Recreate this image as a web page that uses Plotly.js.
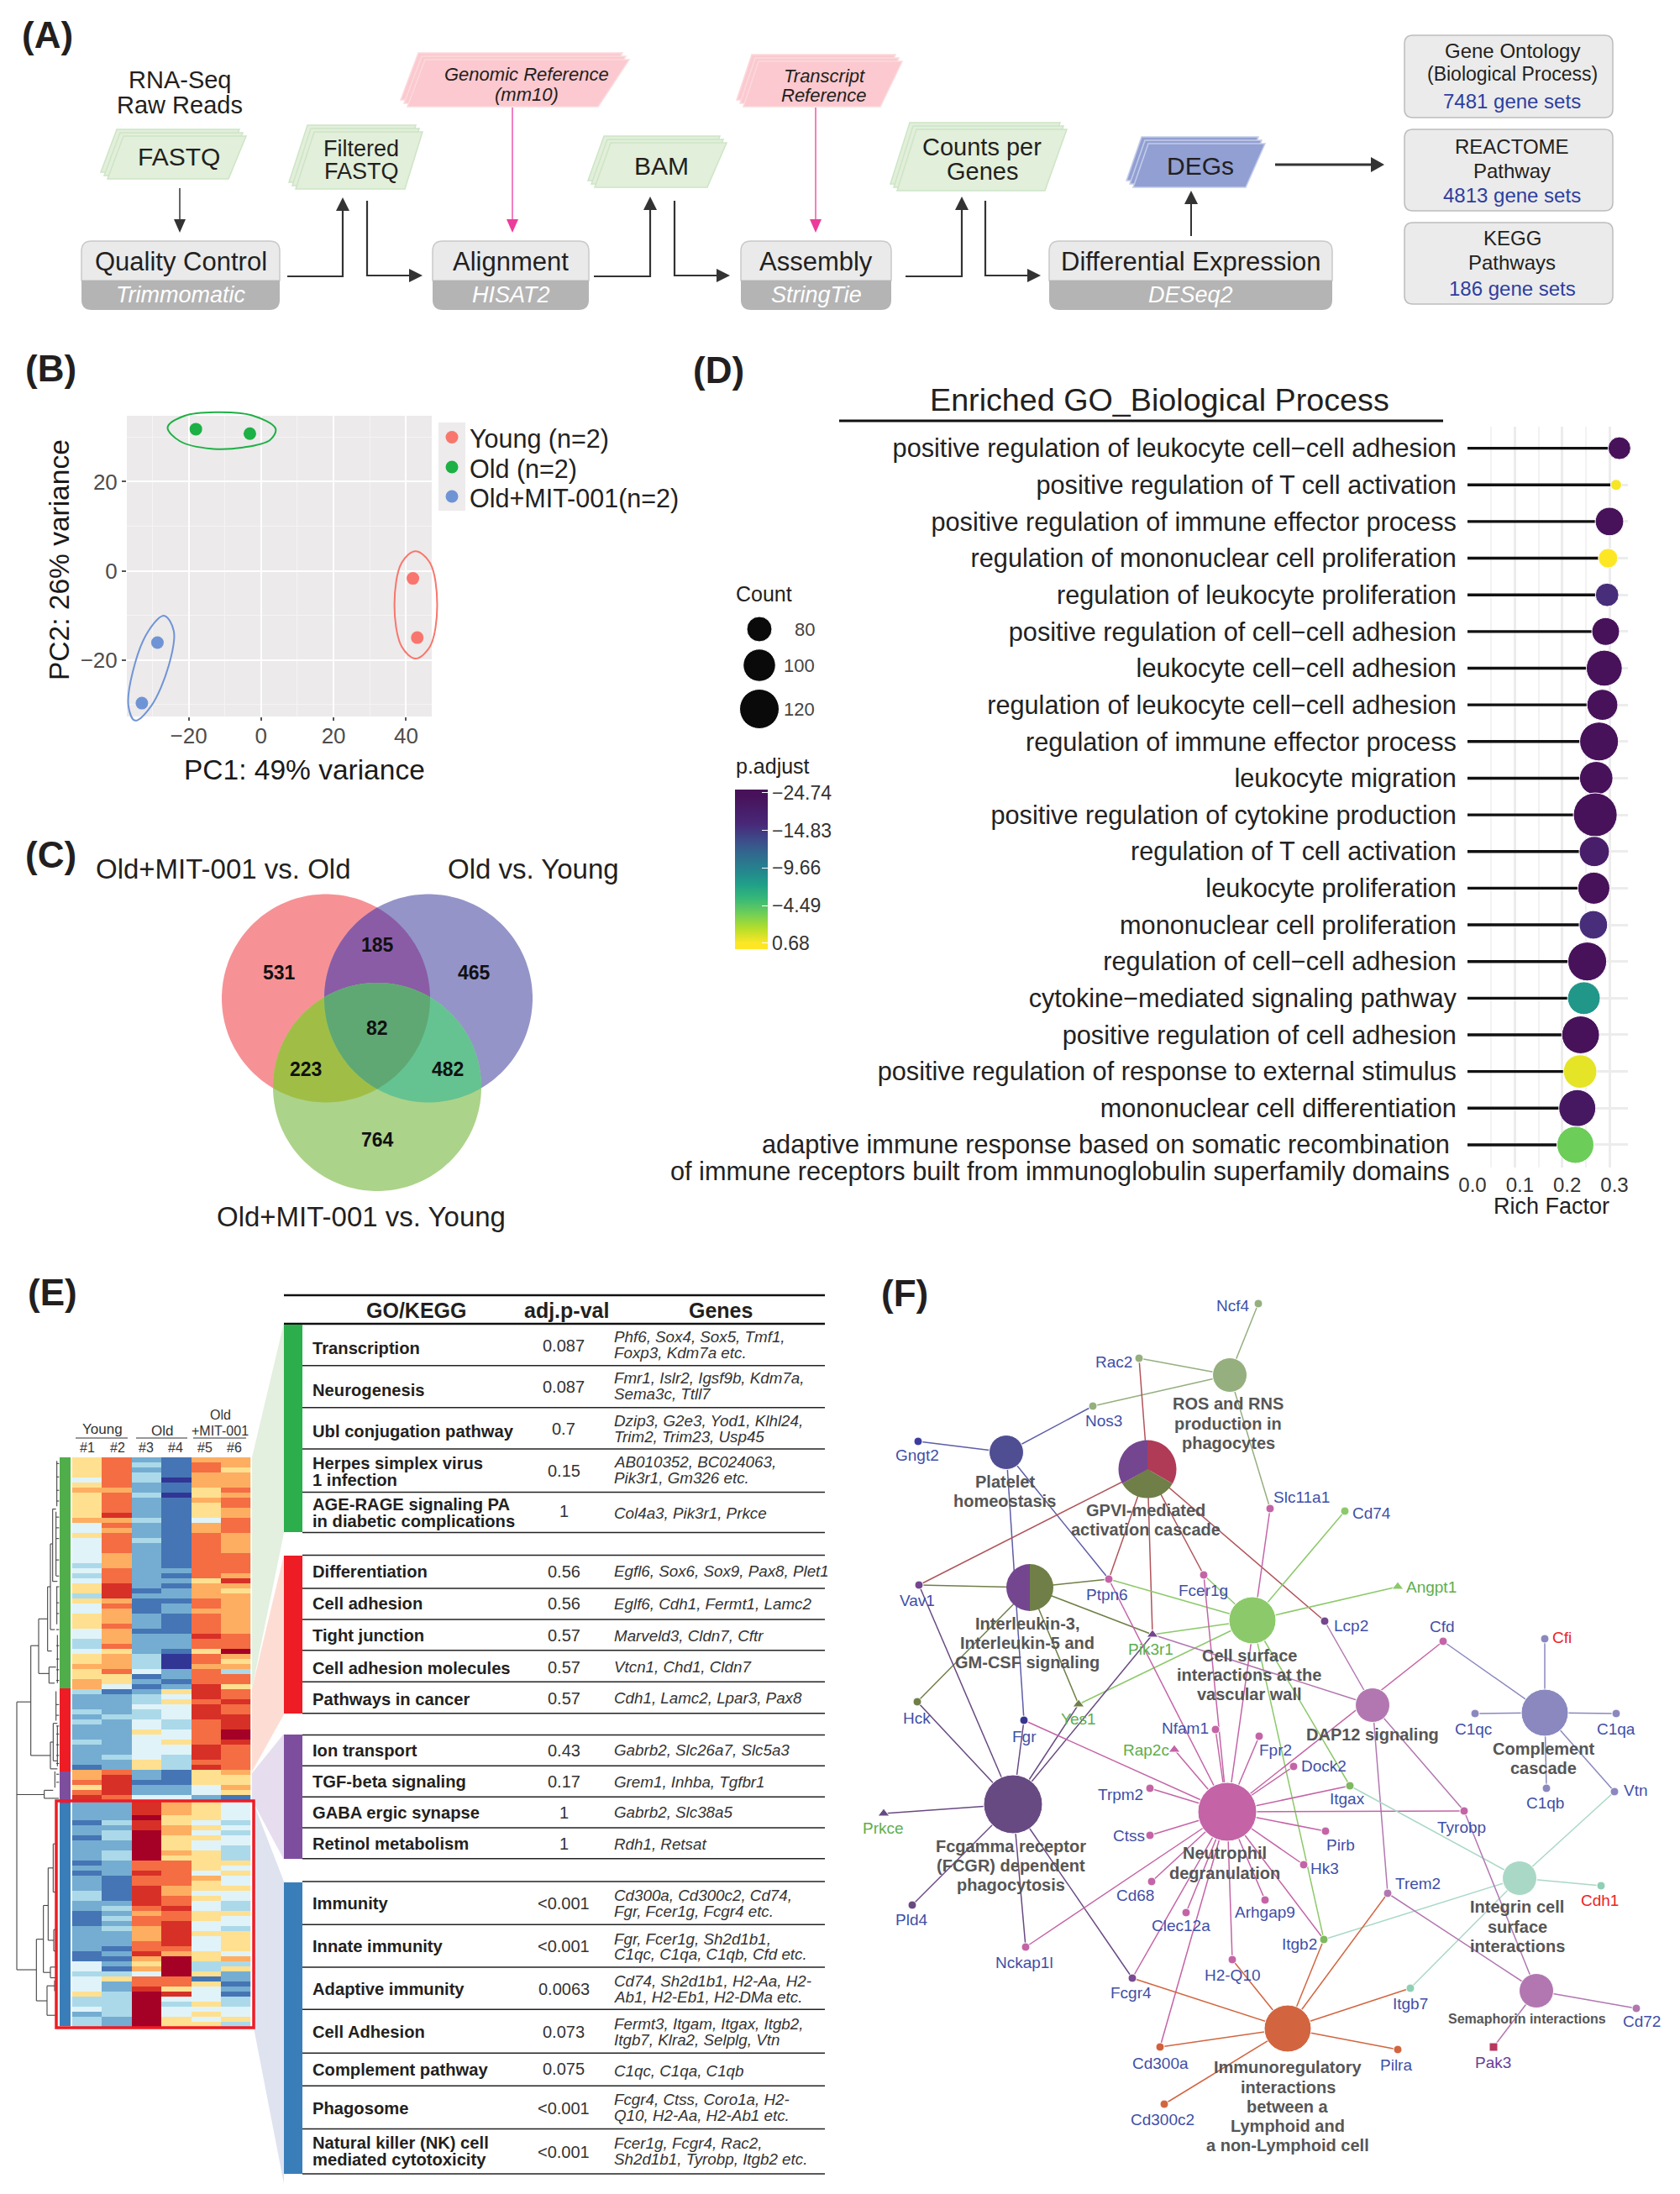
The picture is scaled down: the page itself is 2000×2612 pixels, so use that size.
<!DOCTYPE html>
<html><head><meta charset="utf-8">
<script src="https://cdn.plot.ly/plotly-3.0.1.min.js"></script>
<style>html,body{margin:0;padding:0;background:#fff}#g{width:2000px;height:2612px}</style></head>
<body><div id="g"></div>
<script>
/* ---------- data ---------- */
// B: PCA
const pcaGroups=["Young (n=2)","Old (n=2)","Old+MIT-001(n=2)"];
const pcaColors=["#F8766D","#1DB045","#6F94D6"];
const pc1=[[41.9,43.1],[-18,-3.1],[-28.6,-32.9]];
const pc2=[[-1.7,-15],[31.8,30.8],[-16.1,-29.7]];
const ellipseX=[[42.6,46.6,48.6,46.6,42.6,38.8,36.8,38.8,42.6],[-25.8,-21.1,-12.4,-2.5,4,2.5,-5,-13.7,-22.4,-25.8],[-26.7,-24.1,-25.5,-30.4,-34.8,-36.6,-35.4,-31.1,-26.7]];
const ellipseY=[[4.4,1.8,-7.7,-17,-19.7,-17,-7.7,1.8,4.4],[32.2,34.8,35.6,34.9,31.9,29.4,27.7,27.4,29.1,32.2],[-10.1,-13.5,-21.3,-30.4,-33.6,-30.4,-22.6,-13.5,-10.1]];
// C: Venn
const vennCounts=[531,185,465,82,223,482,764];
const vennLabelX=[332,449,564,449,364,533,449];
const vennLabelY=[1158,1125,1158,1224,1273,1273,1357];
// D: enrichment
const goTerms=["positive regulation of leukocyte cell−cell adhesion","positive regulation of T cell activation","positive regulation of immune effector process","regulation of mononuclear cell proliferation","regulation of leukocyte proliferation","positive regulation of cell−cell adhesion","leukocyte cell−cell adhesion","regulation of leukocyte cell−cell adhesion","regulation of immune effector process","leukocyte migration","positive regulation of cytokine production","regulation of T cell activation","leukocyte proliferation","mononuclear cell proliferation","regulation of cell−cell adhesion","cytokine−mediated signaling pathway","positive regulation of cell adhesion","positive regulation of response to external stimulus","mononuclear cell differentiation","adaptive immune response"];
const lastTermLines=["adaptive immune response based on somatic recombination","of immune receptors built from immunoglobulin superfamily domains"];
const richFactor=[.321,.314,.300,.297,.295,.292,.289,.285,.278,.272,.270,.268,.267,.266,.253,.246,.239,.238,.232,.228];
const goCount=[73,40,89,64,75,87,110,96,118,103,132,94,99,89,118,101,115,103,113,113];
const pAdjust=[-24,0.5,-24,0.68,-16,-24,-24,-24,-24,-24,-24,-20,-24,-16,-24,-8,-24,0,-22,-3.5];
const pAdjustTicks=[-24.74,-14.83,-9.66,-4.49,0.68];
const pAdjustTickText=["−24.74","−14.83","−9.66","−4.49","0.68"];
const countLevels=[80,100,120];
// E: heatmap, one array per sample, colour class 0 (dark blue) .. 9 (dark red)
const sample1=[5,5,5,5,4,5,6,5,5,5, 5,5,6,4,4,5,4,4,4,4, 4,3,4,3,4,5,5,3,5,4, 4,5,5,5,4, 4,3,3,4,5,5,6,5,5,6, 6,3,2,2,2,3,2,3,2,2, 2,3,2,2,2,2,1,6,6,7,5,7,8, 2,2,2,2,1,2,2,1,2,2,2,2, 1,2,1,2,2,2,3,3,2,2,1, 1,1,2,2,2,2,2,1,1, 4,4,3,4,4,4,5,3,3,4,2,3,3];
const sample2=[7,7,7,7,7,7,6,7,7,7, 7,8,6,7,6,7,7,7,7,6, 6,6,7,7,7,8,8,8,6,7, 6,6,6,7,6, 6,6,7,5,6,6,6,7,5,5, 4,1,2,2,2,2,3,2,2,2, 2,2,2,2,3,2,2,7,8,8,8,8,7, 2,2,2,2,3,2,3,3,2,2,3,3, 2,2,2,1,1,1,1,1,2,3,2, 3,2,3,2,2,2,1,2,1, 2,1,3,5,2,2,3,3,3,3,3,2,2];
const sample3=[2,3,2,3,3,2,2,3,2,2, 2,2,3,2,2,2,3,2,2,2, 2,2,2,2,2,2,1,2,1,1, 1,2,2,2,1, 2,2,2,2,3,3,3,4,1,2, 1,2,3,3,4,3,3,4,4,5, 4,4,4,4,4,5,5,2,2,1,2,2,4, 8,8,8,9,8,8,9,9,9,9,9,9, 7,7,8,7,7,8,8,8,8,7,6, 7,7,6,6,6,7,7,8,6, 5,6,4,7,7,8,9,9,9,9,9,9,9];
const sample4=[1,1,1,1,0,1,1,0,1,1, 1,1,1,1,1,1,1,1,1,1, 1,1,2,1,2,1,2,2,1,2, 2,1,1,1,1, 2,2,2,1,0,0,0,2,2,1, 2,5,4,5,4,4,4,3,3,4, 4,5,4,4,3,3,3,1,1,1,2,2,4, 6,6,6,5,5,6,6,5,5,5,6,5, 7,7,7,7,7,6,6,7,7,8,7, 7,8,8,8,8,8,7,6,9, 9,9,9,7,7,5,8,4,3,4,4,5,5];
const sample5=[6,7,7,6,6,6,5,5,6,5, 5,5,4,6,6,7,7,7,7,7, 7,7,7,7,5,6,6,6,7,7, 6,7,7,7,7, 8,7,7,5,7,7,6,7,7,7, 8,8,8,7,8,8,8,7,7,7, 7,7,8,8,8,7,8,5,5,5,4,4,2, 5,5,5,5,4,5,4,5,4,4,5,5, 5,5,4,6,5,5,4,5,4,4,5, 5,4,4,5,4,4,4,5,5, 3,3,5,1,5,4,4,4,5,4,5,4,5];
const sample6=[6,6,5,6,6,6,7,6,7,7, 6,6,7,7,7,6,6,6,6,7, 7,7,7,6,8,6,5,6,6,6, 6,6,6,6,6, 7,7,7,9,6,5,6,3,7,7, 5,7,7,8,7,7,8,8,8,9, 9,8,7,7,7,7,7,6,5,5,6,5,1, 4,4,4,4,3,4,3,4,4,3,3,3, 5,4,5,4,4,5,4,4,3,3,5, 4,4,3,5,5,5,5,4,6, 3,5,2,2,1,2,1,3,3,4,4,5,3];
const sampleLabels=["#1","#2","#3","#4","#5","#6"];
const heatClasses=["#313695","#4575B4","#74ADD1","#ABD9E9","#E0F3F8","#FEE090","#FDAE61","#F46D43","#D73027","#A50026"];
// E: table
const tableTerms=[["Transcription"],["Neurogenesis"],["Ubl conjugation pathway"],["Herpes simplex virus","1 infection"],["AGE-RAGE signaling PA","in diabetic complications"],["Differentiation"],["Cell adhesion"],["Tight junction"],["Cell adhesion molecules"],["Pathways in cancer"],["Ion transport"],["TGF-beta signaling"],["GABA ergic synapse"],["Retinol metabolism"],["Immunity"],["Innate immunity"],["Adaptive immunity"],["Cell Adhesion"],["Complement pathway"],["Phagosome"],["Natural killer (NK) cell","mediated cytotoxicity"]];
const tablePvals=["0.087","0.087","0.7","0.15","1","0.56","0.56","0.57","0.57","0.57","0.43","0.17","1","1","<0.001","<0.001","0.0063","0.073","0.075","<0.001","<0.001"];
const tableGenes=[["Phf6, Sox4, Sox5, Tmf1,","Foxp3, Kdm7a etc."],["Fmr1, Islr2, Igsf9b, Kdm7a,","Sema3c, Ttll7"],["Dzip3, G2e3, Yod1, Klhl24,","Trim2, Trim23, Usp45"],["AB010352, BC024063,","Pik3r1, Gm326 etc."],["Col4a3, Pik3r1, Prkce"],["Egfl6, Sox6, Sox9, Pax8, Plet1"],["Eglf6, Cdh1, Fermt1, Lamc2"],["Marveld3, Cldn7, Cftr"],["Vtcn1, Chd1, Cldn7"],["Cdh1, Lamc2, Lpar3, Pax8"],["Gabrb2, Slc26a7, Slc5a3"],["Grem1, Inhba, Tgfbr1"],["Gabrb2, Slc38a5"],["Rdh1, Retsat"],["Cd300a, Cd300c2, Cd74,","Fgr, Fcer1g, Fcgr4 etc."],["Fgr, Fcer1g, Sh2d1b1,","C1qc, C1qa, C1qb, Cfd etc."],["Cd74, Sh2d1b1, H2-Aa, H2-","Ab1, H2-Eb1, H2-DMa etc."],["Fermt3, Itgam, Itgax, Itgb2,","Itgb7, Klra2, Selplg, Vtn"],["C1qc, C1qa, C1qb"],["Fcgr4, Ctss, Coro1a, H2-","Q10, H2-Aa, H2-Ab1 etc."],["Fcer1g, Fcgr4, Rac2,","Sh2d1b1, Tyrobp, Itgb2 etc."]];
// F: network
const hubNames=["ROS","Platelet","GPVI","IL3","CellSurface","DAP12","Complement","Fcgamma","Neutrophil","Integrin","Semaphorin","Immunoreg"];
const hubX=[1464,1198,1366,1226,1491,1634,1839,1206,1461,1809,1829,1533];
const hubY=[1637,1729,1749,1890,1929,2030,2039,2148,2157,2236,2370,2415];
const hubSize=[41,41,69,56,56,41,56,70,70,41,41,56];
const hubColor=["#95AF7F","#4F4E93","#74468F","#6F7F47","#8CC96A","#B277B1","#8A88BF","#684A82","#C464A6","#AAD8C6","#B277B1","#D26540"];
const hubEdgeColor=["#95AF7F","#5D5DA8","#B0545A","#6F7F47","#8CC96A","#B277B1","#8A88BF","#684A82","#C464A6","#AAD8C6","#B277B1","#D26540"];
const hubLabels=[["ROS and RNS","production in","phagocytes"],["Platelet","homeostasis"],["GPVI-mediated","activation cascade"],["Interleukin-3,","Interleukin-5 and","GM-CSF signaling"],["Cell surface","interactions at the","vascular wall"],["DAP12 signaling"],["Complement","cascade"],["Fcgamma receptor","(FCGR) dependent","phagocytosis"],["Neutrophil","degranulation"],["Integrin cell","surface","interactions"],["Semaphorin interactions"],["Immunoregulatory","interactions","between a","Lymphoid and","a non-Lymphoid cell"]];
const hubLabelX=[1462,1196,1364,1223,1487,1634,1837,1203,1458,1806,1818,1533];
const hubLabelY=[[1671,1695,1718],[1764,1787],[1798,1821],[1933,1956,1979],[1971,1994,2017],[2065],[2082,2105],[2198,2221,2244],[2206,2230],[2270,2294,2317],[2403],[2461,2485,2508,2531,2554]];
const hubGenes=[["Ncf4","Rac2","Nos3","Slc11a1"],["Nos3","Gngt2","Ptpn6","Fgr"],["Rac2","Vav1","Ptpn6","Pik3r1","Fcer1g","Lcp2"],["Vav1","Ptpn6","Pik3r1","Hck","Yes1"],["Ptpn6","Fcer1g","Cd74","Angpt1","Pik3r1","Yes1","Itgax","Itgb2"],["Lcp2","Pik3r1","Trem2","Tyrobp"],["Cfd","Cfi","C1qc","C1qa","C1qb","Vtn"],["Hck","Vav1","Fgr","Yes1","Pik3r1","Prkce","Pld4","Nckap1l","Fcgr4"],["Fgr","Ptpn6","Nfam1","Fcer1g","Slc11a1","Fpr2","Rap2c","Dock2","Trpm2","Itgax","Tyrobp","Ctss","Pirb","Hk3","Cd68","Arhgap9","Clec12a","Itgb2","Nckap1l","H2-Q10","Fcgr4","Cd300a","Cfd"],["Itgax","Vtn","Cdh1","Itgb2","Itgb7"],["Trem2","Tyrobp","Cd72","Pak3"],["Fcgr4","H2-Q10","Itgb2","Trem2","Itgb7","Pilra","Cd300a","Cd300c2"]];
const genePos={Ncf4:[1498,1552,1468,1554],Rac2:[1356,1617,1326,1621],Nos3:[1301,1674,1314,1691],Gngt2:[1093,1716,1092,1732],Slc11a1:[1512,1796,1549,1782],Cd74:[1601,1799,1633,1801],Vav1:[1094,1887,1092,1905],Ptpn6:[1320,1880,1318,1898],Fcer1g:[1433,1875,1432,1893],Angpt1:[1664,1889,1704,1889],Lcp2:[1577,1930,1608,1935],Pik3r1:[1372,1946,1370,1963],Cfd:[1718,1954,1717,1936],Cfi:[1839,1951,1859,1949],Hck:[1092,2026,1091,2045],Yes1:[1284,2029,1284,2046],Fgr:[1219,2048,1219,2067],C1qc:[1756,2040,1754,2058],C1qa:[1924,2040,1924,2058],Nfam1:[1447,2059,1411,2057],Fpr2:[1499,2067,1518,2083],Rap2c:[1398,2083,1364,2083],Dock2:[1540,2103,1576,2102],Trpm2:[1369,2129,1334,2136],Itgax:[1607,2126,1604,2141],C1qb:[1841,2129,1839,2146],Vtn:[1922,2133,1947,2131],Tyrobp:[1743,2156,1740,2175],Prkce:[1052,2159,1051,2176],Ctss:[1369,2185,1344,2185],Pirb:[1578,2180,1596,2196],Hk3:[1552,2220,1577,2224],Cd68:[1371,2240,1351,2256],Trem2:[1652,2254,1688,2242],Cdh1:[1906,2245,1904,2262],Pld4:[1086,2268,1085,2285],Arhgap9:[1506,2262,1506,2276],Clec12a:[1412,2277,1406,2292],Itgb2:[1576,2309,1547,2314],Nckap1l:[1221,2318,1219,2336],"H2-Q10":[1467,2333,1467,2351],Fcgr4:[1348,2355,1346,2372],Itgb7:[1679,2367,1679,2385],Cd72:[1948,2391,1954,2406],Pak3:[1778,2437,1777,2455],Cd300a:[1381,2437,1381,2456],Pilra:[1664,2440,1662,2458],Cd300c2:[1386,2505,1384,2523]};
const triangleGenes=["Angpt1","Pik3r1","Yes1","Rap2c","Prkce"];
const greenLabelGenes=["Angpt1","Pik3r1","Yes1","Rap2c","Prkce"];
const redLabelGenes=["Cfi","Cdh1"];
const purpleLabelGenes=["Pak3"];

/* ---------- helpers ---------- */
const FONT='"Liberation Sans",Arial,sans-serif';
const shapes=[],ann=[];
const T=(x,y,text,size,o={})=>ann.push({xref:'x',yref:'y',x,y,text:(o.b?'<b>':'')+(o.i?'<i>':'')+text+(o.i?'</i>':'')+(o.b?'</b>':''),showarrow:false,xanchor:o.a||'center',yanchor:'middle',borderpad:0,textangle:o.rot||0,font:{family:FONT,size,color:o.c||'#231F20'}});
const S=(path,fill,line,w,layer)=>shapes.push({type:'path',xref:'x',yref:'y',path,fillcolor:fill||'rgba(0,0,0,0)',line:{color:line||'rgba(0,0,0,0)',width:line?(w||1):0},layer:layer||'below'});
const poly=(pts,fill,line,w,layer)=>S('M'+pts.map(p=>p[0]+','+p[1]).join(' L')+' Z',fill,line,w,layer);
const L=(x1,y1,x2,y2,c,w,layer)=>shapes.push({type:'line',xref:'x',yref:'y',x0:x1,y0:y1,x1:x2,y1:y2,line:{color:c,width:w},layer:layer||'below'});
const R=(x1,y1,x2,y2,fill,layer)=>shapes.push({type:'rect',xref:'x',yref:'y',x0:x1,y0:y1,x1:x2,y1:y2,fillcolor:fill,line:{width:0},layer:layer||'below'});
const domX=(a,b)=>[a/2000,b/2000], domY=(t,b)=>[1-b/2612,1-t/2612];

/* ---------- panel labels ---------- */
[['(A)',25,41],['(B)',29,438],['(C)',29,1017],['(D)',824,440],['(E)',32,1538],['(F)',1048,1539]].forEach(l=>T(l[1],l[2],l[0],44,{b:1,a:'left'}));

/* ---------- panel A ---------- */
function stack(tl,tr,bl,br,top,bot,fill,edge){for(let i=2;i>=0;i--){const d=4*i;poly([[tl-d,top-d],[tr-d,top-d],[br-d,bot-d],[bl-d,bot-d]],fill,edge,1.5);}}
const GREEN='#E2EFDA',GE='#CDE5C6',PINK='#FBC9CF',PE='#FBDADD';
stack(147,293,128,272,162,213,GREEN,GE);
stack(374,503,352,482,157,225,GREEN,GE);
stack(727,865,708,842,170,223,GREEN,GE);
stack(1091,1270,1068,1244,154,227,GREEN,GE);
stack(1367,1506,1349,1483,171,223,'#919FD3','#C5CDE8');
stack(506,749,485,712,71,127,PINK,PE);
stack(903,1074,885,1048,73,127,PINK,PE);
T(214,95,'RNA-Seq',29);T(214,125,'Raw Reads',29);
T(213,186,'FASTQ',30);T(430,177,'Filtered',27);T(430,204,'FASTQ',27);T(787,197,'BAM',30);
T(1169,175,'Counts per',29);T(1169,204,'Genes',29);T(1429,197,'DEGs',30);
T(627,88,'Genomic Reference',22,{i:1});T(627,112,'(mm10)',22,{i:1});
T(981,90,'Transcript',22,{i:1});T(981,113,'Reference',22,{i:1});
function procBox(x0,x1,name,tool){const t=287,m=334,b=369,r=12;
 S(`M${x0},${m} L${x0},${t+r} Q${x0},${t} ${x0+r},${t} L${x1-r},${t} Q${x1},${t} ${x1},${t+r} L${x1},${m} Z`,'#EAEAEA','#C9C9C9',1.5);
 S(`M${x0},${m} L${x1},${m} L${x1},${b-r} Q${x1},${b} ${x1-r},${b} L${x0+r},${b} Q${x0},${b} ${x0},${b-r} Z`,'#B4B4B4');
 T((x0+x1)/2,311,name,31);T((x0+x1)/2,351,tool,27,{i:1,c:'#FFFFFF'});}
procBox(97,333,'Quality Control','Trimmomatic');procBox(515,701,'Alignment','HISAT2');procBox(882,1061,'Assembly','StringTie');procBox(1249,1586,'Differential Expression','DESeq2');
function arrow(pts,c,w,hl,hw){const n=pts.length,a=pts[n-2],b=pts[n-1];const dx=Math.sign(b[0]-a[0]),dy=Math.sign(b[1]-a[1]);
 const base=[b[0]-dx*hl,b[1]-dy*hl];S('M'+pts.slice(0,n-1).concat([base]).map(p=>p[0]+','+p[1]).join(' L'),null,c,w);
 poly([b,[base[0]-dy*hw,base[1]-dx*hw],[base[0]+dy*hw,base[1]+dx*hw]],c);}
const AK='#333333';
arrow([[214,224],[214,277]],AK,1.5,16,7);
arrow([[342,329],[408,329],[408,235]],AK,2.2,16,8);
arrow([[437,239],[437,328],[503,328]],AK,2.2,16,8);
arrow([[707,329],[774,329],[774,234]],AK,2.2,16,8);
arrow([[803,239],[803,328],[869,328]],AK,2.2,16,8);
arrow([[1078,329],[1145,329],[1145,234]],AK,2.2,16,8);
arrow([[1173,239],[1173,328],[1239,328]],AK,2.2,16,8);
arrow([[1418,281],[1418,227]],AK,2,16,8);
arrow([[1518,196],[1648,196]],AK,3,16,9);
arrow([[610,128],[610,277]],'#EC3C9B',1.3,16,7);
arrow([[971,128],[971,277]],'#EC3C9B',1.3,16,7);
function setBox(y0,y1,l1,l2,l3,ys){S(`M1672,${y0+10} Q1672,${y0} 1682,${y0} L1910,${y0} Q1920,${y0} 1920,${y0+10} L1920,${y1-10} Q1920,${y1} 1910,${y1} L1682,${y1} Q1672,${y1} 1672,${y1-10} Z`,'#EBEBEB','#BDBDBD',1.5);
 T(1800,ys[0],l1,24);T(1800,ys[1],l2,l2.length>15?23:24);T(1800,ys[2],l3,24,{c:'#2E3E9E'});}
setBox(42,140,'Gene Ontology','(Biological Process)','7481 gene sets',[60,88,120]);
setBox(154,251,'REACTOME','Pathway','4813 gene sets',[174,203,232]);
setBox(265,362,'KEGG','Pathways','186 gene sets',[283,312,343]);

/* ---------- panel B ---------- */
R(151,495,514,853,'#ECEAEA');R(522,503,554,608,'#EDEBEB');
T(362,916,'PC1: 49% variance',33.5,{c:'#1a1a1a'});
T(70,667,'PC2: 26% variance',33.5,{c:'#1a1a1a',rot:-90});
const legendY=[520.5,556,591];
pcaGroups.forEach((g,i)=>T(558,legendY[i]+2,g,30.5,{a:'left',c:'#222'}));

/* ---------- panel C : overlapping regions painted in their own tints ---------- */
const vc=[[388,1188.5,124],[510,1188.5,124],[449,1294,124]];
function region(ids,fill){let pts=[];ids.forEach(i=>{for(let k=0;k<720;k++){const a=k*Math.PI/360,x=vc[i][0]+vc[i][2]*Math.cos(a),y=vc[i][1]+vc[i][2]*Math.sin(a);
 if(ids.every(j=>j===i||Math.hypot(x-vc[j][0],y-vc[j][1])<=vc[j][2]))pts.push([x,y]);}});
 const cx=pts.reduce((s,p)=>s+p[0],0)/pts.length,cy=pts.reduce((s,p)=>s+p[1],0)/pts.length;
 pts.sort((p,q)=>Math.atan2(p[1]-cy,p[0]-cx)-Math.atan2(q[1]-cy,q[0]-cx));
 poly(pts.filter((p,i)=>i%3==0).map(p=>[+p[0].toFixed(1),+p[1].toFixed(1)]),fill);}
region([0],'#F69295');region([1],'#9494C8');region([2],'#ACD38A');
region([0,1],'#8A5CA6');region([0,2],'#A0BE46');region([1,2],'#64C391');region([0,1,2],'#5FA873');
vennCounts.forEach((v,i)=>T(vennLabelX[i],vennLabelY[i],String(v),23,{b:1,c:'#111'}));
T(266,1034,'Old+MIT-001 vs. Old',33);T(635,1034,'Old vs. Young',33);T(430,1448,'Old+MIT-001 vs. Young',33);

/* ---------- panel D static ---------- */
L(999,501,1718,501,'#111',3);
T(1380,476,'Enriched GO_Biological Process',37.7);
T(875,707,'Count',25,{a:'left'});
T(875,912,'p.adjust',25,{a:'left'});
T(1847,1436,'Rich Factor',27,{c:'#222'});
T(1727,1362,lastTermLines[0],30.7,{a:'right',c:'#222'});
T(1727,1394,lastTermLines[1],30.7,{a:'right',c:'#222'});
const countY=[749,792,844];
countLevels.forEach((c,i)=>T(971,countY[i],String(c),22,{a:'right',c:'#444'}));
const sizeFor=c=>30+(c-80)*0.425;
const pStops=[1,.75,.5,.25,0];
const pPos=v=>{for(let i=0;i<4;i++){if(v<=pAdjustTicks[i+1])return pStops[i]+(v-pAdjustTicks[i])/(pAdjustTicks[i+1]-pAdjustTicks[i])*(pStops[i+1]-pStops[i]);}return 0;};
const viridisRev=[[0,'#fde725'],[.038,'#fde725'],[.13,'#b5de2b'],[.225,'#6ece58'],[.32,'#35b779'],[.41,'#1f9e89'],[.505,'#26828e'],[.6,'#31688e'],[.69,'#3e4989'],[.785,'#482878'],[.96,'#47125a'],[1,'#47125a']];

/* ---------- panel E static ---------- */
poly([[300,1735],[300,2010],[338,1825],[338,1575]],'#E3EFDF');
poly([[300,2010],[300,2109],[338,2041],[338,1851]],'#FDDDD3');
poly([[300,2111],[300,2143],[338,2214],[338,2064]],'#E6DEEE');
poly([[302,2147],[302,2414],[338,2600],[338,2240]],'#DFE3F0');
R(71,1735,84,2010,'#4FAE4A');R(71,2010,84,2109,'#EE1C25');R(71,2109,84,2147,'#7E4E9E');R(71,2147,84,2412,'#3A7EB9');
shapes.push({type:'rect',xref:'x',yref:'y',x0:67,y0:2144,x1:302,y1:2414,line:{color:'#EE1C25',width:3.5},layer:'above'});
L(90,1712,152,1712,'#333',1.2);L(162,1712,223,1712,'#333',1.2);L(230,1712,293,1712,'#333',1.2);
T(122,1701,'Young',17,{c:'#333'});T(193,1703,'Old',17,{c:'#333'});T(262,1684,'Old',16,{c:'#333'});T(262,1703,'+MIT-001',16,{c:'#333'});
[104,140,174,209,244,279].forEach((x,i)=>T(x,1723,sampleLabels[i],16,{c:'#333'}));
// table
const tz=z=>1520+z/1.439;
L(338,1542,982,1542,'#111',2.5);L(338,1576,982,1576,'#111',2.5);
T(495,1560,'GO/KEGG',25,{b:1});T(674,1560,'adj.p-val',25,{b:1});T(858,1560,'Genes',25,{b:1});
R(338,1577,360,1824,'#2BAE4B');R(338,1852,360,2040,'#EE1C25');R(338,2065,360,2213,'#7E4E9E');R(338,2241,360,2588,'#3A7EB9');
[152,224,295,369,438,477,534,587,640,694,748,785,838,891,944,997,1036,1110,1183,1255,1330,1386,1460,1537].forEach(z=>L(360,tz(z),982,tz(z),'#222',1.5));
const termZ=[[122],[194],[265],[319,348],[390,419],[505],[560],[614],[670],[724],[811],[865],[918],[971],[1074],[1147],[1220],[1294],[1359],[1424],[1483,1512]];
const pvalZ=[118,189,260,333,402,505,560,614,669,722,811,865,918,971,1074,1147,1220,1293,1357,1424,1500];
const geneZ=[[103,130],[174,201],[247,274],[318,345],[405],[505],[561],[615],[669],[722],[811],[865],[918],[972],[1060,1087],[1134,1161],[1207,1234],[1280,1307],[1360],[1410,1437],[1484,1511]];
tableTerms.forEach((t,i)=>{t.forEach((s,k)=>T(371,tz(termZ[i][k]),s,20.2,{b:1,a:'left'}));
 T(671,tz(pvalZ[i]),tablePvals[i].replace('<','&lt;'),20,{c:'#333'});
 tableGenes[i].forEach((s,k)=>T(730,tz(geneZ[i][k]),s,18.8,{i:1,a:'left',c:'#333'}));});

const dz=[[60,825,60,1325],[60,825,110,825],[110,720,110,925],[110,720,138,720],[138,670,138,772],[138,670,170,670],[170,610,170,730],[170,610,180,610],[180,530,180,690],[180,530,188,530],[188,465,188,600],[188,465,200,465],[188,600,205,600],[180,690,196,690],[170,730,185,730],[138,772,175,772],[175,760,175,790],[175,760,200,760],[175,790,195,790],[110,925,180,925],[180,900,180,950],[180,900,190,900],[190,865,190,935],[190,865,205,865],[190,935,205,935],[180,950,205,950],[60,998,158,998],[158,990,158,1005],[158,990,190,990],[158,1005,210,1005],[60,1325,130,1325],[130,1268,130,1383],[130,1268,155,1268],[155,1205,155,1330],[155,1205,172,1205],[172,1135,172,1270],[172,1135,190,1135],[190,1090,190,1180],[190,1090,205,1090],[190,1180,205,1180],[172,1270,192,1270],[192,1250,192,1290],[192,1250,205,1250],[192,1290,205,1290],[155,1330,180,1330],[180,1320,180,1340],[180,1320,205,1320],[180,1340,205,1340],[130,1383,168,1383],[168,1355,168,1410],[168,1355,195,1355],[168,1410,200,1410],[195,1345,195,1365],[203,375,203,460],[200,470,200,590],[203,610,203,680],[205,700,205,790],[200,805,200,860],[205,870,205,945],[196,955,196,985]];
[380,405,430,450,480,500,520,560,590,610,640,660,690,720,745,765,785,830,850,870,885,905,925,940,960,975].forEach(y=>dz.push([201,y,211,y]));
const dendroX=[],dendroY=[];dz.forEach(s=>{dendroX.push(s[0]/3,s[2]/3,null);dendroY.push(1500+s[1]/1.568,1500+s[3]/1.568,null);});

/* ---------- panel F ---------- */
const geneNames=Object.keys(genePos);
const geneColor={};
[8,0,1,2,3,4,5,6,7,9,10,11].forEach(h=>hubGenes[h].forEach(g=>{if(!geneColor[g])geneColor[g]=hubColor[h]==='#AAD8C6'?'#8FCFB5':hubColor[h];}));
geneColor.Cd300a='#D2603C';geneColor.Itgb2='#7FB85E';geneColor.Itgax='#7FB85E';geneColor.Fcgr4='#7A4A92';geneColor.Pak3='#B8385F';geneColor.Gngt2='#3C3C9E';geneColor.Fgr='#35358F';
hubLabels.forEach((ls,i)=>ls.forEach((s,k)=>T(hubLabelX[i],hubLabelY[i][k],s,i===10?16:20,{b:1,c:'#565656'})));
geneNames.forEach(g=>{const p=genePos[g];T(p[2],p[3],g,19,{c:greenLabelGenes.includes(g)?'#5DAE4E':redLabelGenes.includes(g)?'#EE2222':purpleLabelGenes.includes(g)?'#6A3D9A':'#3F4FA8'});});

/* ---------- traces ---------- */
const traces=[];
// overlay: dendrogram
traces.push({type:'scatter',mode:'lines',x:dendroX,y:dendroY,xaxis:'x',yaxis:'y',line:{color:'#444',width:1.1},hoverinfo:'skip',showlegend:false});
// network edges
hubNames.forEach((h,i)=>{const xs=[],ys=[];hubGenes[i].forEach(g=>{xs.push(hubX[i],genePos[g][0],null);ys.push(hubY[i],genePos[g][1],null);});
 traces.push({type:'scatter',mode:'lines',x:xs,y:ys,xaxis:'x',yaxis:'y',line:{color:hubEdgeColor[i],width:1.5},hoverinfo:'skip',showlegend:false,name:h});});
// network gene nodes
traces.push({type:'scatter',mode:'markers',x:geneNames.map(g=>genePos[g][0]),y:geneNames.map(g=>genePos[g][1]),text:geneNames,xaxis:'x',yaxis:'y',hoverinfo:'text',showlegend:false,
 marker:{opacity:1,size:geneNames.map(g=>triangleGenes.includes(g)?12:10),symbol:geneNames.map(g=>triangleGenes.includes(g)?'triangle-up':(g==='Pak3'?'square':'circle')),color:geneNames.map(g=>geneColor[g])}});
// hubs (the two multi-category hubs are pies)
const hubIdx=hubNames.map((h,i)=>i).filter(i=>hubNames[i]!=='GPVI'&&hubNames[i]!=='IL3');
traces.push({type:'scatter',mode:'markers',x:hubIdx.map(i=>hubX[i]),y:hubIdx.map(i=>hubY[i]),text:hubIdx.map(i=>hubNames[i]),xaxis:'x',yaxis:'y',hoverinfo:'text',showlegend:false,
 marker:{opacity:1,size:hubIdx.map(i=>hubSize[i]),color:hubIdx.map(i=>hubColor[i])}});
function hubPie(name,vals,cols){const i=hubNames.indexOf(name),r=hubSize[i]/2;
 traces.push({type:'pie',values:vals,sort:false,direction:'clockwise',rotation:0,textinfo:'none',hoverinfo:'skip',showlegend:false,marker:{colors:cols,line:{width:0}},
  domain:{x:domX(hubX[i]-r,hubX[i]+r),y:domY(hubY[i]-r,hubY[i]+r)}});}
hubPie('GPVI',[1,1,1],['#B03B57','#6F7F47','#74468F']);
hubPie('IL3',[1,1],['#6F7F47','#74468F']);
// count legend of D
traces.push({type:'scatter',mode:'markers',x:countLevels.map(()=>904),y:countY,xaxis:'x',yaxis:'y',hoverinfo:'skip',showlegend:false,marker:{opacity:1,size:countLevels.map(sizeFor),color:'#0A0A0A'}});
// legend keys of B
traces.push({type:'scatter',mode:'markers',x:pcaGroups.map(()=>538),y:legendY,xaxis:'x',yaxis:'y',hoverinfo:'skip',showlegend:false,marker:{opacity:1,size:15,color:pcaColors}});
// B
pcaGroups.forEach((g,i)=>{
 traces.push({type:'scatter',mode:'lines',x:ellipseX[i],y:ellipseY[i],xaxis:'x5',yaxis:'y5',line:{color:pcaColors[i],width:2,shape:'spline',smoothing:1},hoverinfo:'skip',showlegend:false});
 traces.push({type:'scatter',mode:'markers',name:g,x:pc1[i],y:pc2[i],xaxis:'x2',yaxis:'y2',marker:{size:15,color:pcaColors[i]},cliponaxis:false,showlegend:false});});
// D
const stemX=[],stemY=[];goTerms.forEach((t,i)=>{stemX.push(0,richFactor[i],null);stemY.push(t,t,null);});
traces.push({type:'scatter',mode:'lines',x:stemX,y:stemY,xaxis:'x3',yaxis:'y3',line:{color:'#111',width:3.4},hoverinfo:'skip',showlegend:false});
traces.push({type:'scatter',mode:'markers',x:richFactor,y:goTerms,xaxis:'x3',yaxis:'y3',showlegend:false,cliponaxis:false,
 marker:{opacity:1,size:goCount.map(sizeFor),color:pAdjust.map(pPos),cmin:-0.04,cmax:1.022,colorscale:viridisRev,showscale:true,
  colorbar:{x:875/2000,xanchor:'left',y:1-1130/2612,yanchor:'bottom',lenmode:'pixels',len:190,thicknessmode:'pixels',thickness:39,xpad:0,ypad:0,outlinewidth:0,
   tickmode:'array',tickvals:pStops,ticktext:pAdjustTickText,ticks:'inside',ticklen:7,tickcolor:'#FFFFFF',tickfont:{family:FONT,size:23,color:'#333'}}}});
// E heatmap
const zRows=sample1.map((_,r)=>[sample1[r],sample2[r],sample3[r],sample4[r],sample5[r],sample6[r]]);
const cs=[];heatClasses.forEach((c,i)=>{cs.push([i/10,c],[(i+1)/10,c]);});
traces.push({type:'heatmap',z:zRows,x:sampleLabels,y:sample1.map((_,r)=>r),xaxis:'x4',yaxis:'y4',zmin:-0.5,zmax:9.5,colorscale:cs,showscale:false,hoverinfo:'skip'});

const layout={width:2000,height:2612,margin:{l:0,r:0,t:0,b:0,pad:0},paper_bgcolor:'#fff',plot_bgcolor:'rgba(0,0,0,0)',font:{family:FONT},
 shapes,annotations:ann,showlegend:false,
 xaxis:{domain:[0,1],range:[0,2000],visible:false,fixedrange:true},
 yaxis:{domain:[0,1],range:[2612,0],visible:false,fixedrange:true},
 xaxis2:{domain:domX(151,514),anchor:'y2',range:[-37.05,47.1],tickvals:[-20,0,20,40],showline:false,zeroline:false,gridcolor:'#FFFFFF',gridwidth:2,
  minor:{dtick:10,tick0:0,showgrid:true,gridcolor:'#F5F3F3',gridwidth:1},ticks:'outside',ticklen:4,tickcolor:'#555',tickwidth:1.5,tickfont:{family:FONT,size:26,color:'#4D4D4D'},ticklabelstandoff:-4},
 yaxis2:{domain:domY(495,853),anchor:'x2',range:[-32.7,34.8],tickvals:[-20,0,20],showline:false,zeroline:false,gridcolor:'#FFFFFF',gridwidth:2,
  minor:{dtick:10,tick0:0,showgrid:true,gridcolor:'#F5F3F3',gridwidth:1},ticks:'outside',ticklen:5,tickcolor:'#555',tickwidth:1.5,tickfont:{family:FONT,size:26,color:'#4D4D4D'}},
 // same scale as axes 2, wider window so the ellipses can leave the panel
 xaxis5:{domain:domX(130,530),anchor:'y5',range:[-41.92,50.81],visible:false,fixedrange:true},
 yaxis5:{domain:domY(485,865),anchor:'x5',range:[-34.96,36.69],visible:false,fixedrange:true},
 xaxis3:{domain:domX(1747,1938),anchor:'y3',range:[0,.339],tickvals:[0,.1,.2,.3],ticktext:['0.0','0.1','0.2','0.3'],zeroline:false,showline:false,gridcolor:'#ECECEC',gridwidth:3,
  minor:{dtick:.05,tick0:0,showgrid:true,gridcolor:'#F2F2F2',gridwidth:1.5},ticks:'',tickfont:{family:FONT,size:24,color:'#333'},ticklabelstandoff:4,ticklabelshift:6},
 yaxis3:{domain:domY(508,1390),anchor:'x3',type:'category',categoryorder:'array',categoryarray:goTerms,range:[19.62,-0.586],zeroline:false,showline:false,gridcolor:'#ECECEC',gridwidth:3,
  tickmode:'array',tickvals:goTerms,ticktext:goTerms.map((t,i)=>i===goTerms.length-1?' ':t),
  ticks:'outside',ticklen:6,tickcolor:'rgba(0,0,0,0)',tickfont:{family:FONT,size:30.7,color:'#222'}},
 xaxis4:{domain:domX(85.7,298.3),anchor:'y4',visible:false,fixedrange:true,type:'category'},
 yaxis4:{domain:domY(1735,2413),anchor:'x4',visible:false,fixedrange:true,autorange:false,range:[112.5,-0.5]}
};
Plotly.newPlot('g',traces,layout,{displayModeBar:false,responsive:false});
</script></body></html>
